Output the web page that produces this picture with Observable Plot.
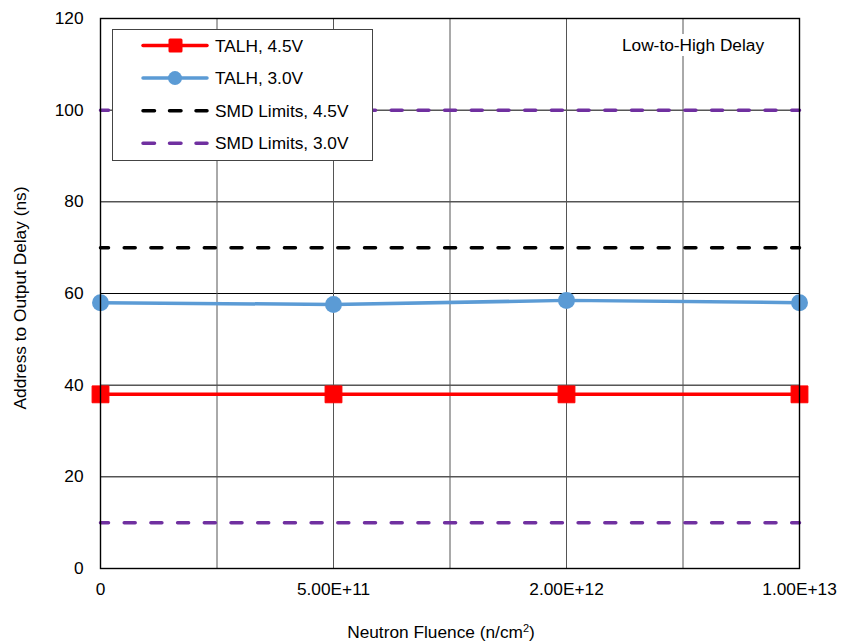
<!DOCTYPE html>
<html>
<head>
<meta charset="utf-8">
<script src="https://cdn.jsdelivr.net/npm/d3@7"></script>
<script src="https://cdn.jsdelivr.net/npm/@observablehq/plot@0.6"></script>
<style>
  body { margin: 0; background: #fff; }
  #chart svg { font-family: "Liberation Sans", Arial, sans-serif; }
  #chart svg text { font-size: 17.3px !important; font-weight: normal; stroke: none !important; font-variant: normal !important; }
  #chart svg tspan.small { font-size: 11px !important; }
</style>
</head>
<body>
<div id="chart"></div>
<script>
// Neutron fluence test points (categorical, evenly spaced)
const fluenceLabels = ["0", "5.00E+11", "2.00E+12", "1.00E+13"];
// Address-to-output delay, low-to-high transition (ns)
const talh45 = [38, 38, 38, 38];
const talh30 = [58.0, 57.6, 58.5, 58.0];
// SMD specification limits (ns)
const smdLimit45 = [70, 70, 70, 70];
const smdLimit30Max = [100, 100, 100, 100];
const smdLimit30Min = [10, 10, 10, 10];
const yTicks = [0, 20, 40, 60, 80, 100, 120];

const rows = (vals) => vals.map((v, i) => ({i, v}));
const idx = fluenceLabels.map((_, i) => i);
const midGrid = [0.5, 1, 1.5, 2, 2.5];

const dashPattern = "11,15.7";
const series = [
  {name: "TALH, 4.5V", color: "#FF0000", marker: "square", dash: null},
  {name: "TALH, 3.0V", color: "#5B9BD5", marker: "circle", dash: null},
  {name: "SMD Limits, 4.5V", color: "#000000", marker: null, dash: dashPattern},
  {name: "SMD Limits, 3.0V", color: "#7030A0", marker: null, dash: dashPattern}
];

const limitLine = (vals, s) => Plot.line(rows(vals), {
  x: "i", y: "v", stroke: s.color, strokeWidth: 3.5,
  strokeDasharray: s.dash, strokeDashoffset: 3, strokeLinecap: "round"
});

const plot = Plot.plot({
  width: 841,
  height: 642,
  marginLeft: 100,
  marginRight: 42,
  marginTop: 18,
  marginBottom: 74,
  style: {fontFamily: "Liberation Sans, Arial, sans-serif", color: "#000", background: "#fff"},
  x: {type: "linear", domain: [0, 3]},
  y: {domain: [0, 120]},
  marks: [
    Plot.gridY(yTicks, {stroke: "#000", strokeOpacity: 1, strokeWidth: 1}),
    Plot.ruleX(midGrid, {stroke: "#555", strokeWidth: 1}),
    limitLine(smdLimit30Max, series[3]),
    limitLine(smdLimit30Min, series[3]),
    limitLine(smdLimit45, series[2]),
    Plot.line(rows(talh45), {x: "i", y: "v", stroke: series[0].color, strokeWidth: 3.5}),
    Plot.dot(rows(talh45), {x: "i", y: "v", symbol: "square", r: 9.5, fill: series[0].color, stroke: series[0].color, strokeWidth: 1, strokeLinejoin: "round"}),
    Plot.line(rows(talh30), {x: "i", y: "v", stroke: series[1].color, strokeWidth: 3.5}),
    Plot.dot(rows(talh30), {x: "i", y: "v", symbol: "circle", r: 8.5, fill: series[1].color, stroke: "none"}),
    Plot.frame({stroke: "#000", strokeWidth: 1.4}),
    Plot.axisY(yTicks, {tickSize: 0, tickPadding: 17, label: null}),
    Plot.axisX(idx, {tickSize: 0, tickPadding: 14, tickFormat: (d) => fluenceLabels[d], label: null})
  ]
});

document.getElementById("chart").appendChild(plot);

const svg = d3.select(plot);

// Axis titles
svg.append("text")
  .attr("transform", "translate(20,298) rotate(-90)")
  .attr("text-anchor", "middle").attr("dy", "0.35em").attr("fill", "#000")
  .text("Address to Output Delay (ns)");
const xt = svg.append("text")
  .attr("x", 441).attr("y", 638)
  .attr("text-anchor", "middle").attr("fill", "#000");
xt.append("tspan").text("Neutron Fluence (n/cm");
xt.append("tspan").attr("class", "small").attr("dy", -6).text("2");
xt.append("tspan").attr("dy", 6).text(")");

// Legend box layered over the plot area
const lg = svg.append("g").attr("text-anchor", "start");
lg.append("rect")
  .attr("x", 112.5).attr("y", 29.5).attr("width", 260).attr("height", 131)
  .attr("fill", "#fff").attr("stroke", "#444").attr("stroke-width", 1);
series.forEach((s, k) => {
  const cy = 45.5 + k * 32.6;
  const g = lg.append("g");
  g.append("line")
    .attr("x1", 143).attr("x2", 207).attr("y1", cy).attr("y2", cy)
    .attr("stroke", s.color).attr("stroke-width", 3.5)
    .attr("stroke-linecap", "round")
    .attr("stroke-dasharray", s.dash ? "11.5,15" : null);
  if (s.marker === "square") {
    g.append("rect").attr("x", 168.5).attr("y", cy - 7).attr("width", 14).attr("height", 14).attr("rx", 1.5).attr("fill", s.color);
  } else if (s.marker === "circle") {
    g.append("circle").attr("cx", 175).attr("cy", cy).attr("r", 7).attr("fill", s.color);
  }
  g.append("text").attr("x", 215).attr("y", cy).attr("dy", "0.35em")
    .attr("text-anchor", "start").attr("fill", "#000").text(s.name);
});

// Panel annotation
const note = svg.append("g");
note.append("rect").attr("x", 617).attr("y", 34).attr("width", 152).attr("height", 22).attr("fill", "#fff");
note.append("text").attr("x", 693).attr("y", 45).attr("dy", "0.35em").attr("text-anchor", "middle")
  .attr("fill", "#000").text("Low-to-High Delay");
</script>
</body>
</html>
